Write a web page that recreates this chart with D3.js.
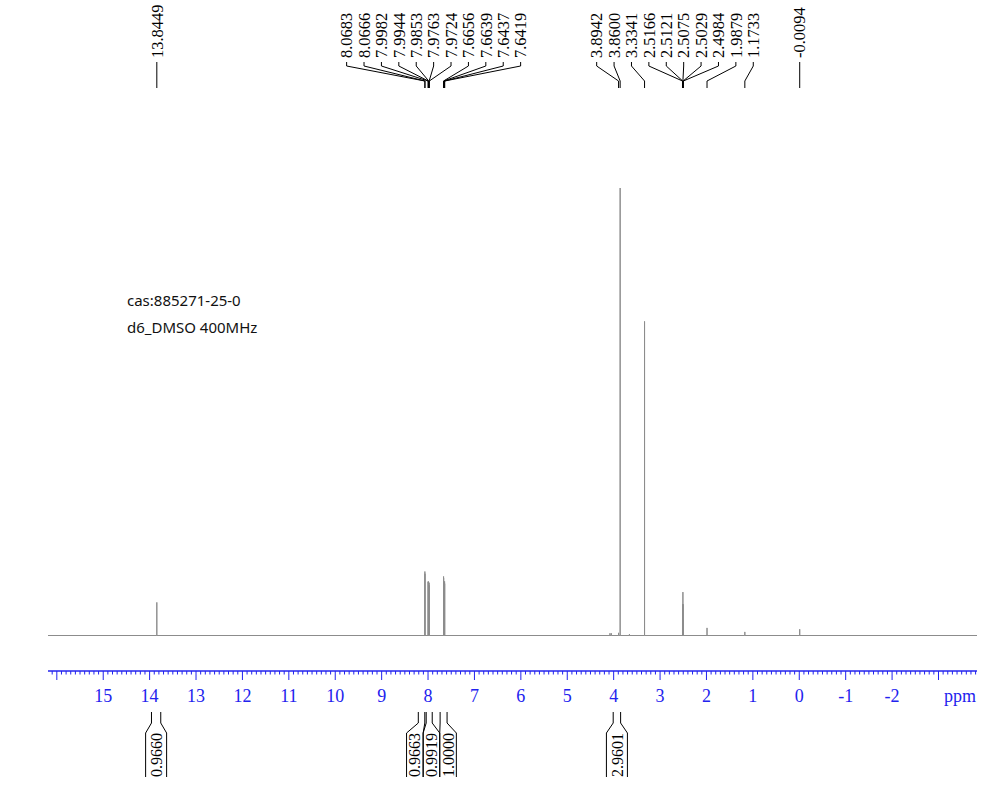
<!DOCTYPE html>
<html>
<head>
<meta charset="utf-8">
<script src="https://cdn.jsdelivr.net/npm/d3@7"></script>
<style>
  body { margin: 0; background: #fff; }
  svg { display: block; }
</style>
</head>
<body>
<div id="chart"></div>
<script>
// labelled peaks (ppm) and their heights (% of tallest peak)
var peakPpm = [13.8449, 8.0683, 8.0666, 7.9982, 7.9944, 7.9853, 7.9763, 7.9724,
               7.6656, 7.6639, 7.6437, 7.6419, 3.8942, 3.8600, 3.3341,
               2.5166, 2.5121, 2.5075, 2.5029, 2.4984, 1.9879, 1.1733, -0.0094];
var peakHeight = [7.4, 14.3, 13.8, 12.0, 12.1, 9.5, 11.8, 11.2,
                  13.2, 12.8, 12.1, 11.6, 0.6, 100, 70.2,
                  3.5, 7.0, 9.7, 7.0, 3.5, 1.7, 0.8, 1.4];
// small unlabelled bumps
var minorPpm = [4.08, 4.05, 3.66];
var minorHeight = [0.5, 0.5, 0.3];

// integrals
var integralFrom = [13.96, 8.21, 8.04, 7.74, 4.01];
var integralTo = [13.76, 8.07, 7.91, 7.59, 3.85];
var integralValue = ["0.9660", "0.9663", "0.9919", "1.0000", "2.9601"];

var tickValues = [15, 14, 13, 12, 11, 10, 9, 8, 7, 6, 5, 4, 3, 2, 1, 0, -1, -2];
var noteLines = ["cas:885271-25-0", "d6_DMSO 400MHz"];

var W = 997, H = 800;
var ppmLeft = 16.19, ppmRight = -3.83;
var baseY = 635.5, axisY = 671;

var svg = d3.select("#chart").append("svg")
       .attr("width", W).attr("height", H);
svg.append("rect").attr("width", W).attr("height", H).attr("fill", "#fff");

var x = d3.scaleLinear().domain([ppmLeft, ppmRight]).range([48, 977]);
var y = d3.scaleLinear().domain([0, 100]).range([baseY, 188]);

// spectrum: baseline + sticks at each peak
var pts = [];
peakPpm.forEach((p, i) => pts.push({ p: p, h: peakHeight[i] }));
minorPpm.forEach((p, i) => pts.push({ p: p, h: minorHeight[i] }));
pts.sort((a, b) => b.p - a.p);
var path = [[ppmLeft, 0]];
pts.forEach(d => { path.push([d.p, 0]); path.push([d.p, d.h]); path.push([d.p, 0]); });
path.push([ppmRight, 0]);

svg.append("path")
       .datum(path)
       .attr("fill", "none")
       .attr("stroke", "#8c8c8c")
       .attr("stroke-width", 1)
       .attr("d", d3.line().x(d => x(d[0])).y(d => y(d[1])));

// pack labels so they don't overlap, centred on their targets
function spread(xs, gap) {
       var cl = xs.map((v, i) => ({ idx: [i], sum: v }));
       var merged = true;
       while (merged) {
              merged = false;
              for (var i = 0; i < cl.length - 1; i++) {
                     var a = cl[i], b = cl[i + 1];
                     var ca = a.sum / a.idx.length, cb = b.sum / b.idx.length;
                     var aEnd = ca + (a.idx.length - 1) / 2 * gap;
                     var bStart = cb - (b.idx.length - 1) / 2 * gap;
                     if (bStart - aEnd < gap) {
                            cl.splice(i, 2, { idx: a.idx.concat(b.idx), sum: a.sum + b.sum });
                            merged = true;
                            break;
                     }
              }
       }
       var out = [], size = [];
       cl.forEach(c => {
              var n = c.idx.length, m = c.sum / n;
              c.idx.forEach((k, j) => { out[k] = m - (n - 1) / 2 * gap + j * gap; size[k] = n; });
       });
       return { pos: out, size: size };
}

// peak labels at top
var peakX = peakPpm.map(p => x(p));
var lab = spread(peakX, 17.4).pos;
var labelG = svg.append("g");
peakPpm.forEach((p, i) => {
       var lx = lab[i], px = peakX[i];
       labelG.append("text")
              .attr("transform", "translate(" + lx + ",58) rotate(-90)")
              .attr("dy", "0.35em")
              .style("font", "16.5px 'Liberation Serif'")
              .attr("fill", "#000")
              .text(p.toFixed(4));
       labelG.append("path")
              .attr("d", d3.line()([[lx, 62], [lx, 66], [px, 81], [px, 88]]))
              .attr("fill", "none")
              .attr("stroke", "#000")
              .attr("stroke-width", 1);
});

// axis
var axis = svg.append("g").attr("class", "axis");
axis.append("line")
       .attr("x1", x(ppmLeft)).attr("x2", x(ppmRight))
       .attr("y1", axisY).attr("y2", axisY)
       .attr("stroke", "#2222ee").attr("stroke-width", 1.6);
var minor = d3.range(-38, 162).map(v => v / 10);
axis.selectAll("line.minor")
       .data(minor)
       .enter().append("line")
       .attr("class", "minor")
       .attr("x1", d => x(d)).attr("x2", d => x(d))
       .attr("y1", axisY).attr("y2", d => Math.abs(d - Math.round(d)) < 1e-6 ? axisY + 9 : axisY + 3.5)
       .attr("stroke", "#2222ee").attr("stroke-width", 1);
axis.selectAll("text.tick")
       .data(tickValues)
       .enter().append("text")
       .attr("class", "tick")
       .attr("x", d => x(d)).attr("y", 702)
       .attr("text-anchor", "middle")
       .attr("fill", "#2222ee")
       .style("font", "18px 'Liberation Serif'")
       .text(d => d);
axis.append("text")
       .attr("x", 960).attr("y", 702)
       .attr("text-anchor", "middle")
       .attr("fill", "#2222ee")
       .style("font", "18px 'Liberation Serif'")
       .text("ppm");

// integrals
var intMid = integralFrom.map((f, i) => (x(f) + x(integralTo[i])) / 2);
var ip = spread(intMid, 16.6);
var ints = svg.append("g");
integralValue.forEach((v, i) => {
       var x1 = x(integralFrom[i]), x2 = x(integralTo[i]);
       var c = ip.pos[i];
       var hw = ip.size[i] > 1 ? 8.3 : 10.5;
       var line = d3.line();
       ints.append("path")
              .attr("d", line([[x1, 712], [x1, 723], [c - hw, 733], [c - hw, 777]]))
              .attr("fill", "none").attr("stroke", "#000").attr("stroke-width", 1);
       ints.append("path")
              .attr("d", line([[x2, 712], [x2, 723], [c + hw, 733], [c + hw, 777]]))
              .attr("fill", "none").attr("stroke", "#000").attr("stroke-width", 1);
       ints.append("text")
              .attr("transform", "translate(" + c + ",777) rotate(-90)")
              .attr("dy", "0.35em")
              .style("font", "16px 'Liberation Serif'")
              .attr("fill", "#000")
              .text(v);
});

// sample note
svg.selectAll("text.note")
       .data(noteLines)
       .enter().append("text")
       .attr("class", "note")
       .attr("x", 127)
       .attr("y", (d, i) => 306 + i * 26.5)
       .style("font", "15px 'Noto Sans'")
       .attr("fill", "#111")
       .text(d => d);
</script>
</body>
</html>
